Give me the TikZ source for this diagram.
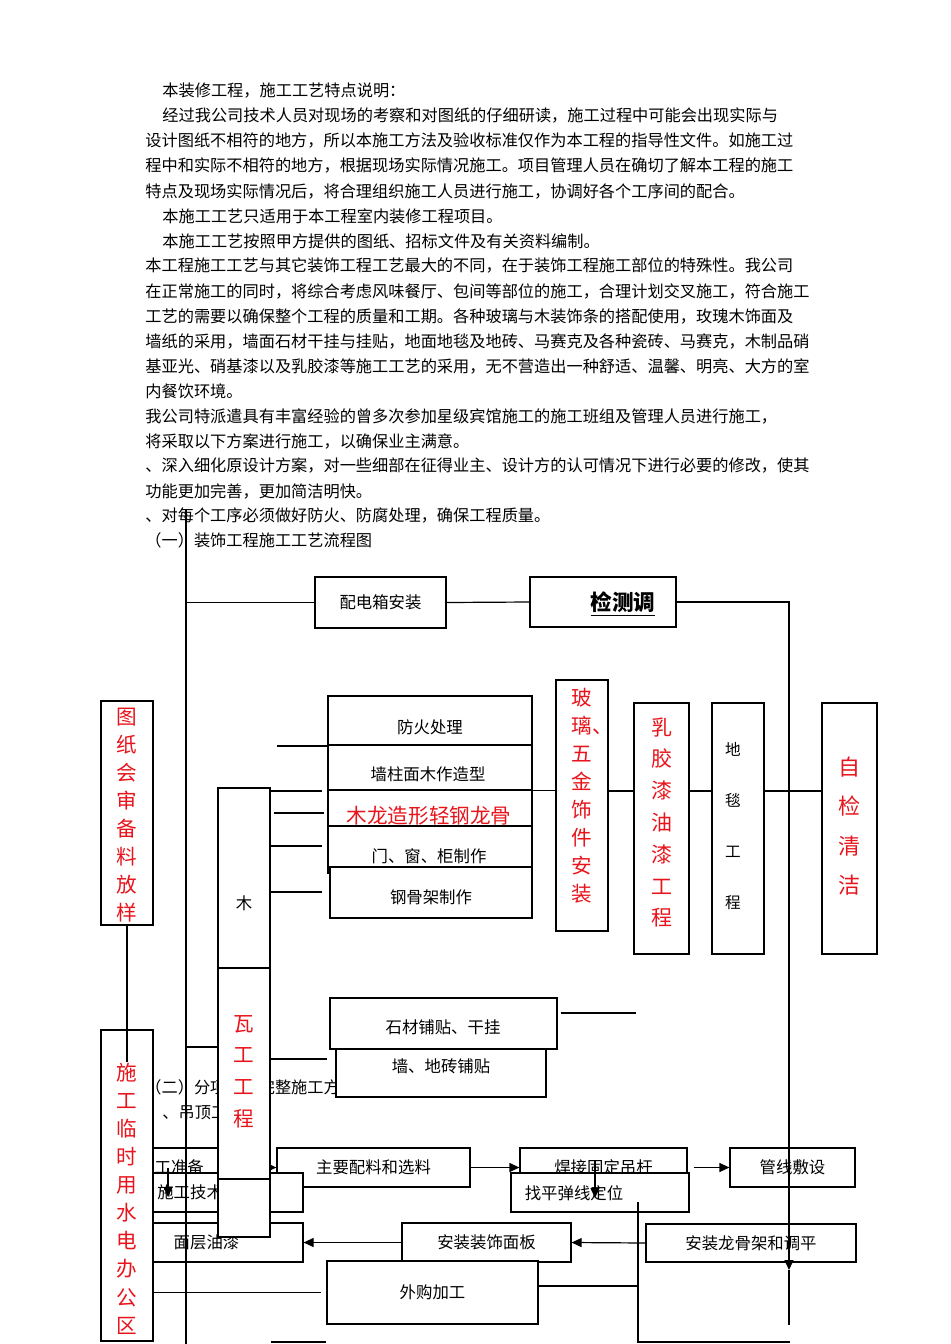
\documentclass[tikz,border=0pt]{standalone}
\usepackage{fontspec}
\setmainfont{Noto Sans CJK SC}
\usetikzlibrary{arrows.meta}
\definecolor{redtx}{HTML}{E8141C}
\newcommand\fsz[1]{\fontsize{#1}{#1}\selectfont}
\tikzset{
  line/.style={line width=0.6pt, draw=black},
  arr/.style={-{Triangle[length=5pt,width=4.5pt]}, line width=0.6pt},
  box/.style 2 args={draw, fill=white, line width=0.6pt, inner sep=0pt,
    minimum width=#1*0.5pt, minimum height=#2*0.5pt, font=\fsz{8.2}},
  frame/.style 2 args={box={#1}{#2}, fill=none},
  txt/.style={inner sep=0pt, font=\fsz{8.2}},
  para/.style={anchor=west, inner sep=0pt, font=\fsz{8.1}},
  redcol/.style 2 args={inner sep=0pt, align=center, text=redtx,
    font=\fontsize{#1}{#2}\selectfont}
}

\begin{document}
\begin{tikzpicture}[x=0.5pt,y=-0.5pt]
  \useasboundingbox (0,0) rectangle (950,1344);
  % description text
  \foreach \i/\x/\y/\t in {
    1/162/91/本装修工程，施工工艺特点说明：,
    2/162/116/经过我公司技术人员对现场的考察和对图纸的仔细研读，施工过程中可能会出现实际与,
    3/145/141/设计图纸不相符的地方，所以本施工方法及验收标准仅作为本工程的指导性文件。如施工过,
    4/145/166/程中和实际不相符的地方，根据现场实际情况施工。项目管理人员在确切了解本工程的施工,
    5/145/191/特点及现场实际情况后，将合理组织施工人员进行施工，协调好各个工序间的配合。,
    6/162/216/本施工工艺只适用于本工程室内装修工程项目。,
    7/162/241/本施工工艺按照甲方提供的图纸、招标文件及有关资料编制。,
    8/145/266/本工程施工工艺与其它装饰工程工艺最大的不同，在于装饰工程施工部位的特殊性。我公司,
    9/145/291/在正常施工的同时，将综合考虑风味餐厅、包间等部位的施工，合理计划交叉施工，符合施工,
    10/145/316/工艺的需要以确保整个工程的质量和工期。各种玻璃与木装饰条的搭配使用，玫瑰木饰面及,
    11/145/341/墙纸的采用，墙面石材干挂与挂贴，地面地毯及地砖、马赛克及各种瓷砖、马赛克，木制品硝,
    12/145/366/基亚光、硝基漆以及乳胶漆等施工工艺的采用，无不营造出一种舒适、温馨、明亮、大方的室,
    13/145/391/内餐饮环境。,
    14/145/416/我公司特派遣具有丰富经验的曾多次参加星级宾馆施工的施工班组及管理人员进行施工，,
    15/145/441/将采取以下方案进行施工，以确保业主满意。,
    16/145/466/、深入细化原设计方案，对一些细部在征得业主、设计方的认可情况下进行必要的修改，使其,
    17/145/491/功能更加完善，更加简洁明快。,
    18/145/516/、对每个工序必须做好防火、防腐处理，确保工程质量。,
    19/145/540/（一）装饰工程施工工艺流程图,
    20/145/1087/（二）分项工程完整施工方法,
    21/162/1112/、吊顶工程}{
    \node[para] (para\i) at (\x,\y) {\t};
  }
  \coordinate (trunktop) at (186,510);
  \coordinate (trunkbot) at (186,1344);

  % top row
  \node[box={131}{51}] (peidian) at (380.5,602.5) {配电箱安装};
  \node[box={146}{50}] (jiance) at (603,602) {};
  \node[txt,font=\fsz{10.8}\bfseries] (jiancet) at (623,604) {\underline{检测调}};

  % left columns
  \node[box={52}{224}] (tuzhi) at (127,813) {};
  \node[redcol={10.3}{14}] (tuzhit) at (127,815.5) {图\\纸\\会\\审\\备\\料\\放\\样};

  % wood stack
  \node[box={204}{49}] (fanghuo) at (430,720.5) {};
  \node[txt] (fanghuot) at (430,727) {防火处理};
  \node[box={204}{45}] (qiangzhu) at (430,767.5) {};
  \node[txt] (qiangzhut) at (428,774) {墙柱面木作造型};
  \node[box={204}{36}] (mulong) at (430,808) {};
  \node[redcol={10.3}{10.3}] (mulongt) at (429,816) {木龙造形轻钢龙骨};
  \node[frame={204}{47}] (menchuang) at (430,849.5) {};
  \node[txt] (menchuangt) at (429,856) {门、窗、柜制作};
  \node[box={202}{51}] (gangguj) at (431,892.5) {};
  \node[txt] (ganggujt) at (431,897) {钢骨架制作};

  % finishing columns
  \node[box={52}{251}] (boli) at (582,805.5) {};
  \node[redcol={10.3}{14}] (bolit) at (582,795.5) {玻\\璃\rlap{、}\\五\\金\\饰\\件\\安\\装};
  \node[box={55}{251}] (rujiao) at (661.5,828.5) {};
  \node[redcol={10.5}{15.9}] (rujiaot) at (662,822.5) {乳\\胶\\漆\\油\\漆\\工\\程};
  \node[box={52}{251}] (ditan) at (738,828.5) {};
  \node[redcol={7.8}{25.5},text=black] (ditant) at (733,826.5) {地\\毯\\工\\程};
  \node[box={55}{251}] (zijian) at (849.5,828.5) {};
  \node[redcol={11}{19.65}] (zijiant) at (849,826) {自\\检\\清\\洁};

  % ceiling flow
  \node[box={145}{39}] (zhunbei) at (182.5,1167.5) {};
  \node[txt] (zhunbeit) at (171,1167) {施工准备};
  \node[box={193}{39}] (zhuyao) at (373.5,1167.5) {主要配料和选料};
  \draw[arr] (zhunbei.east) -- (zhuyao.west);
  \node[box={193}{39}] (jishu) at (206.5,1192.5) {施工技术交底};
  \node[box={193}{39}] (mianceng) at (206.5,1242.5) {面层油漆};
  \node[box={52}{311}] (shigong) at (127,1185.5) {};
  \node[redcol={10.3}{14.05}] (shigongt) at (127,1198.5) {施\\工\\临\\时\\用\\水\\电\\办\\公\\区};
  \node[box={167}{39}] (hanjie) at (603.5,1167.5) {焊接固定吊杆};
  \node[box={178}{39}] (zhaoping) at (600,1192.5) {};
  \node[txt] (zhaopingt) at (574,1193) {找平弹线定位};
  \node[box={125}{39}] (guanxian) at (792.5,1167.5) {管线敷设};
  \node[box={169}{39}] (anzhuangzs) at (486.5,1242.5) {安装装饰面板};
  \node[box={210}{38}] (longgu) at (751,1243) {安装龙骨架和调平};
  \node[box={211}{63}] (waigou) at (432.5,1292.5) {外购加工};

  % wood / tile column
  \node[box={52}{180}] (mu) at (244,878) {};
  \node[txt] (mut) at (244,903) {木};
  \node[box={52}{211}] (wagong) at (244,1073.5) {};
  \node[redcol={10.3}{15.85}] (wagongt) at (244,1071.5) {瓦\\工\\工\\程};
  \node[box={52}{58}] (wagong2) at (244,1208) {};

  % tile boxes
  \node[box={227}{51}] (shicai) at (443.5,1023.5) {};
  \node[txt] (shicait) at (443,1027) {石材铺贴、干挂};
  \node[box={210}{48}] (qiangdi) at (441,1073) {};
  \node[txt] (qiangdit) at (441,1066) {墙、地砖铺贴};

  % connectors
  \draw[line] (peidian.west) -- (peidian.west -| trunktop);
  \draw[line] (peidian.east) -- (jiance.west);
  \coordinate (rtip) at (789,1270);
  \coordinate (rend) at (789,1325);
  \draw[arr] (jiance.east) -| (rtip);
  \draw[line] (rtip) -- (rend);
  \coordinate (tzend) at (127,1062);
  \draw[line] (tuzhi.south) -- (tzend);
  \foreach \y in {791,846,892}
    \draw[line,shorten >=2.5pt] (mu.east |- 0,\y) -- (fanghuo.west |- 0,\y);
  \draw[line,shorten <=1.5pt,shorten >=1.5pt] (mu.east |- 0,813) -- (fanghuo.west |- 0,813);
  \coordinate (fhstub) at (277,746);
  \draw[line] (fhstub) -- (fhstub -| qiangzhu.west);
  \draw[line] (qiangzhu.south east) -- (qiangzhu.south east -| boli.west);
  \foreach \a/\b in {boli/rujiao,rujiao/ditan,ditan/zijian}
    \draw[line] (\a.east |- 0,791) -- (\b.west |- 0,791);
  \coordinate (scstub) at (636,1013);
  \draw[line,shorten <=1.5pt] (scstub -| shicai.east) -- (scstub);
  \draw[line,shorten >=4pt] (wagong.east |- 0,1059) -- (qiangdi.west |- 0,1059);
  \draw[line] (trunktop |- 0,1047) -- (wagong.west |- 0,1047);
  \coordinate (zbdown) at (168,1197);
  \draw[arr] (zhunbei.center -| zbdown) -- (zbdown);
  \draw[arr] (zhuyao.east) -- (zhuyao.east -| hanjie.west);
  \draw[arr,shorten <=3pt] (hanjie.east) -- (guanxian.west);
  \coordinate (hjtop) at (595,1160);
  \coordinate (hjdown) at (595,1198);
  \draw[arr] (hjtop) -- (hjdown);
  \draw[arr] (longgu.west) -- (anzhuangzs.east);
  \draw[arr] (anzhuangzs.west) -- (mianceng.east);
  \draw[line,shorten >=2.5pt] (shigong.east |- waigou.west) -- (waigou.west);
  \coordinate (zpdrop) at (638,1202);
  \coordinate (botright) at (790,1342);
  \draw[line] (zpdrop) |- (botright);
  \draw[line] (waigou.east |- 0,1286) -- (zpdrop |- 0,1286);
  \draw[line] (wagong2.east |- 0,1342) -- (waigou.west |- 0,1342);
  \draw[line] (trunktop) -- (trunkbot);
\end{tikzpicture}
\end{document}
